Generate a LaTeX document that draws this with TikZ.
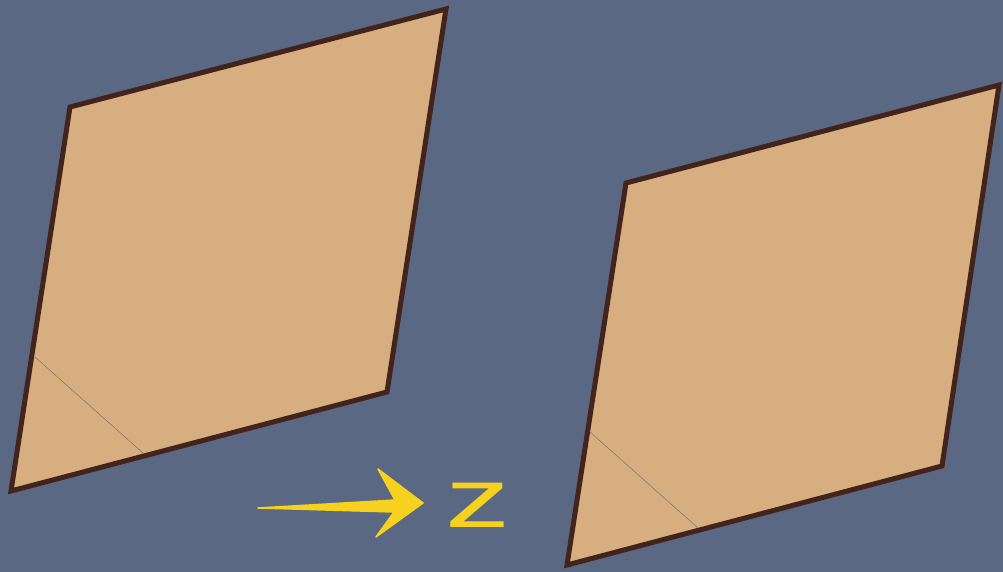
\documentclass[tikz,border=0pt]{standalone}
\usepackage{fontspec}
\newfontfamily\zfont{Liberation Sans}
\definecolor{bg}{HTML}{5B6883}
\definecolor{tan}{HTML}{D6AE80}
\definecolor{rim}{HTML}{42241A}
\definecolor{chalk}{HTML}{F6D21E}
\tikzset{
  plate/.style={fill=tan, draw=rim, line width=5pt, line join=miter},
  crease/.style={draw=bg!70!black, line width=0.5pt, opacity=0.6},
  chalkarrow/.style={fill=chalk, draw=chalk, line width=1.5pt, line join=round},
  lbl/.style={text=chalk, font=\zfont\fontsize{84}{84}\selectfont, inner sep=0pt, xscale=1.55}
}
\begin{document}
\begin{tikzpicture}[x=1pt,y=-1pt]
\fill[bg] (0,0) rectangle (1003,572);
\useasboundingbox (0,0) rectangle (1003,572);
% left plate
\coordinate (a1) at (70,107);
\coordinate (a2) at (446,9);
\coordinate (a3) at (387,392);
\coordinate (a4) at (11,491);
\draw[plate] (a1) -- (a2) -- (a3) -- (a4) -- cycle;
\coordinate (c1) at (35,357);
\coordinate (c2) at (143,453);
\draw[crease] (c1) -- (c2);
% right plate
\coordinate (b1) at (626,183);
\coordinate (b2) at (999,85);
\coordinate (b3) at (942,466);
\coordinate (b4) at (567,565);
\draw[plate] (b1) -- (b2) -- (b3) -- (b4) -- cycle;
\coordinate (d1) at (590,432);
\coordinate (d2) at (698,528);
\draw[crease] (d1) -- (d2);
% arrow and label
\node[lbl, anchor=center] (z) at (478,505) {z};
\coordinate (tail) at (258,508);
\coordinate (tip) at (423,503);
\draw[chalkarrow] (tail) -- (395,500) -- (378,469) -- (tip) -- (376,537) -- (394,512) -- cycle;
\end{tikzpicture}
\end{document}
